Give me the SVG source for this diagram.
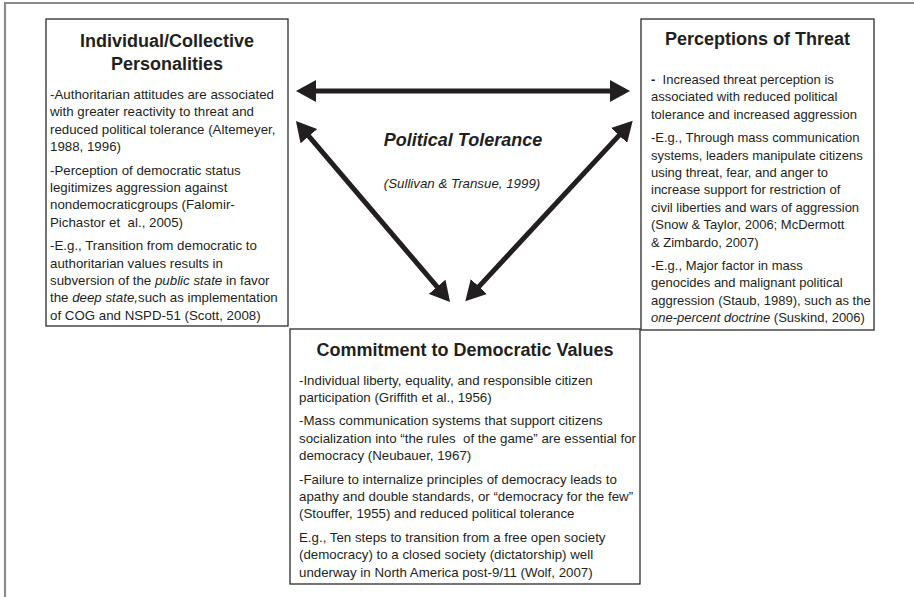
<svg xmlns="http://www.w3.org/2000/svg" width="914" height="597" viewBox="0 0 914 597">
<style>
.box{fill:#fff;stroke:#2b2b2b;stroke-width:1.3}
.frame{fill:none;stroke:#8a8a8a;stroke-width:2.2}
.title{font-family:"Liberation Sans",Arial,sans-serif;font-weight:bold;font-size:18px;fill:#231f20;text-anchor:middle}
.body{font-family:"Liberation Sans",Arial,sans-serif;font-size:13.3px;fill:#231f20}
.rbody{font-family:"Liberation Sans",Arial,sans-serif;font-size:13px;fill:#231f20}
.it{font-style:italic}
.conn{stroke:#231f20;stroke-width:5;fill:none}
</style>
<defs>
<marker id="ah" markerUnits="userSpaceOnUse" markerWidth="22" markerHeight="22" refX="15" refY="11" orient="auto-start-reverse" viewBox="0 0 22 22">
<path d="M0,0 L20,11 L0,22 z" fill="#231f20"/>
</marker>
</defs>
<rect width="914" height="597" fill="#fff"/>
<path class="frame" d="M5,597 L5,3 L914,3"/>

<g id="connectors">
<line class="conn" x1="301" y1="91" x2="625" y2="91" marker-start="url(#ah)" marker-end="url(#ah)"/>
<line class="conn" x1="299.2" y1="124.8" x2="446.8" y2="298.2" marker-start="url(#ah)" marker-end="url(#ah)"/>
<line class="conn" x1="629.3" y1="124.4" x2="468.7" y2="297.6" marker-start="url(#ah)" marker-end="url(#ah)"/>
</g>

<g id="political-tolerance">
<text class="title it" x="463" y="146">Political Tolerance</text>
<text class="body it" x="462" y="188" text-anchor="middle" font-size="13">(Sullivan &amp; Transue, 1999)</text>
</g>

<g id="node-personalities">
<rect class="box" x="46" y="19" width="242" height="307"/>
<text class="title" x="167" y="46.5">Individual/Collective</text>
<text class="title" x="167" y="70">Personalities</text>
<text class="body" x="50" xml:space="preserve"><tspan x="50" y="99">-Authoritarian attitudes are associated</tspan><tspan x="50" y="116.4">with greater reactivity to threat and</tspan><tspan x="50" y="133.8">reduced political tolerance (Altemeyer,</tspan><tspan x="50" y="151.2">1988, 1996)</tspan><tspan x="50" y="174.6">-Perception of democratic status</tspan><tspan x="50" y="192">legitimizes aggression against</tspan><tspan x="50" y="209.4">nondemocraticgroups (Falomir-</tspan><tspan x="50" y="226.8">Pichastor et  al., 2005)</tspan><tspan x="50" y="250.2">-E.g., Transition from democratic to</tspan><tspan x="50" y="267.6">authoritarian values results in</tspan><tspan x="50" y="285">subversion of the <tspan class="it">public state</tspan> in favor</tspan><tspan x="50" y="302.4">the <tspan class="it">deep state,</tspan>such as implementation</tspan><tspan x="50" y="319.8">of COG and NSPD-51 (Scott, 2008)</tspan></text>
</g>

<g id="node-threat">
<rect class="box" x="641" y="19" width="233" height="311"/>
<text class="title" x="757.5" y="45">Perceptions of Threat</text>
<text class="rbody" x="651" xml:space="preserve"><tspan x="651" y="84"><tspan font-weight="bold">-</tspan>  Increased threat perception is</tspan><tspan x="651" y="101.4">associated with reduced political</tspan><tspan x="651" y="118.8">tolerance and increased aggression</tspan><tspan x="651" y="142.2">-E.g., Through mass communication</tspan><tspan x="651" y="159.6">systems, leaders manipulate citizens</tspan><tspan x="651" y="177">using threat, fear, and anger to</tspan><tspan x="651" y="194.4">increase support for restriction of</tspan><tspan x="651" y="211.8">civil liberties and wars of aggression</tspan><tspan x="651" y="229.2">(Snow &amp; Taylor, 2006; McDermott</tspan><tspan x="651" y="246.6">&amp; Zimbardo, 2007)</tspan><tspan x="651" y="270">-E.g., Major factor in mass</tspan><tspan x="651" y="287.4">genocides and malignant political</tspan><tspan x="651" y="304.8">aggression (Staub, 1989), such as the</tspan><tspan x="651" y="322.2"><tspan class="it">one-percent doctrine</tspan> (Suskind, 2006)</tspan></text>
</g>

<g id="node-democratic-values">
<rect class="box" x="290" y="329" width="350" height="255"/>
<text class="title" x="465" y="356">Commitment to Democratic Values</text>
<text class="body" x="299" xml:space="preserve"><tspan x="299" y="384.5">-Individual liberty, equality, and responsible citizen</tspan><tspan x="299" y="401.9">participation (Griffith et al., 1956)</tspan><tspan x="299" y="425.3">-Mass communication systems that support citizens</tspan><tspan x="299" y="442.7">socialization into “the rules  of the game” are essential for</tspan><tspan x="299" y="460.1">democracy (Neubauer, 1967)</tspan><tspan x="299" y="483.5">-Failure to internalize principles of democracy leads to</tspan><tspan x="299" y="500.9">apathy and double standards, or “democracy for the few”</tspan><tspan x="299" y="518.3">(Stouffer, 1955) and reduced political tolerance</tspan><tspan x="299" y="541.7">E.g., Ten steps to transition from a free open society</tspan><tspan x="299" y="559.1">(democracy) to a closed society (dictatorship) well</tspan><tspan x="299" y="576.5">underway in North America post-9/11 (Wolf, 2007)</tspan></text>
</g>
</svg>
